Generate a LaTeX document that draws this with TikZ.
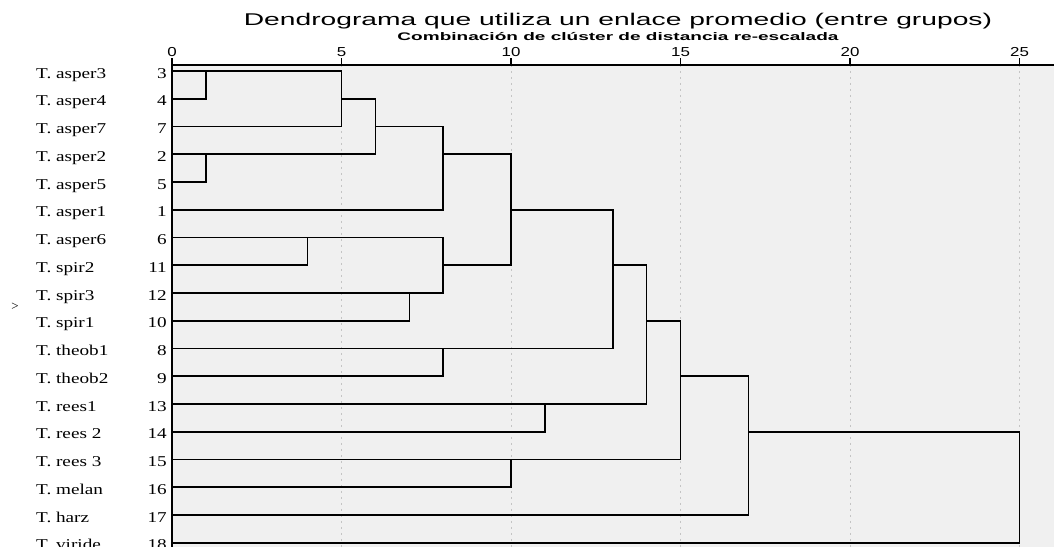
\documentclass[tikz,border=0pt]{standalone}
\usepackage{fontspec}
\setmainfont{Liberation Serif}
\setsansfont{Liberation Sans}
\usepackage{graphicx}
\usetikzlibrary{positioning}
\definecolor{plotbg}{HTML}{F0F0F0}
\definecolor{gridgray}{HTML}{C4C4C4}
\newcommand{\stretchx}[2]{\scalebox{#1}[1]{#2}}

\begin{document}
\begin{tikzpicture}[x=1pt, y=-1pt]
	\tikzstyle{heading} = [inner sep=0, font={\sffamily\fontsize{17}{20}\selectfont}];
	\tikzstyle{subheading} = [inner sep=0, font={\sffamily\bfseries\fontsize{11}{13}\selectfont}];
	\tikzstyle{species} = [inner sep=0, anchor=base west, font={\fontsize{15}{18}\selectfont}];
	\tikzstyle{case} = [inner sep=0, anchor=base east, font={\fontsize{15}{18}\selectfont}];
	\tikzstyle{ticklab} = [inner sep=0, font={\sffamily\fontsize{13}{15}\selectfont}];
	\tikzstyle{tree} = [line width=1.6pt, black];
	\tikzstyle{axisline} = [line width=1.4pt, black];
	\tikzstyle{grid} = [gridgray, line width=0.9pt, dash pattern=on 2pt off 4pt];

	\useasboundingbox (0,0) rectangle (1054,546);

	\node[heading, anchor=base] (title) at (618,25) {\stretchx{1.66}{Dendrograma que utiliza un enlace promedio (entre grupos)}};
	\node[subheading, anchor=base] (subtitle) at (618,40) {\stretchx{1.73}{Combinación de clúster de distancia re-escalada}};
	\node[inner sep=0, font={\fontsize{13}{15}\selectfont}] (mark) at (15,307) {>};

	\begin{scope}[shift={(172,71)}, x=33.9pt, y=-27.75pt]
	\fill[plotbg] (0,-0.22) rectangle (26.05,17.2);
	\foreach \t in {5,10,...,25}
		\draw[grid] (\t,-0.22) -- (\t,17.2);

	\def \leaves {3/T. asper3, 4/T. asper4, 7/T. asper7, 2/T. asper2, 5/T. asper5, 1/T. asper1, 6/T. asper6, 11/T. spir2, 12/T. spir3, 10/T. spir1, 8/T. theob1, 9/T. theob2, 13/T. rees1, 14/T. rees 2, 15/T. rees 3, 16/T. melan, 17/T. harz, 18/T. viride}

	\foreach \n/\lab [count=\r from 0] in \leaves {
		\coordinate (l\n) at (0,\r);
		\node[case] (n\n) at ([xshift=-5pt, yshift=-7pt]l\n) {\stretchx{1.28}{\n}};
		\node[species] (s\n) at ([xshift=-136pt, yshift=-7pt]l\n) {\stretchx{1.28}{\lab}};
	}

	% merge / distance / row of outgoing line / first / second
	\foreach \k/\d/\r/\a/\b in {k1/1/0/l3/l4, k2/5/1/k1/l7, k3/1/3/l2/l5, k4/6/2/k2/k3,
		k5/8/3/k4/l1, k6/4/6/l6/l11, k7/7/8/l12/l10, k8/8/7/k6/k7, k9/10/5/k5/k8,
		k10/8/10/l8/l9, k11/13/7/k9/k10, k12/11/12/l13/l14, k13/14/9/k11/k12,
		k14/10/14/l15/l16, k15/15/11/k13/k14, k16/17/13/k15/l17, k17/25/13/k16/l18} {
		\coordinate (\k) at (\d,\r);
		\draw[tree] (\a) -| (\k) |- (\b);
	}

	\draw[axisline] (0,-0.22) -- (26.05,-0.22);
	\draw[axisline, line width=2pt] (0,-0.22) -- (0,17.2);
	\foreach \t in {0,5,...,25} {
		\coordinate (ax\t) at (\t,-0.22);
		\draw[axisline] (ax\t) -- ++(0pt,7pt) coordinate (tt\t);
		\node[ticklab, above=1pt of tt\t] (tl\t) {\stretchx{1.3}{\t}};
	}
	\end{scope}
\end{tikzpicture}
\end{document}
